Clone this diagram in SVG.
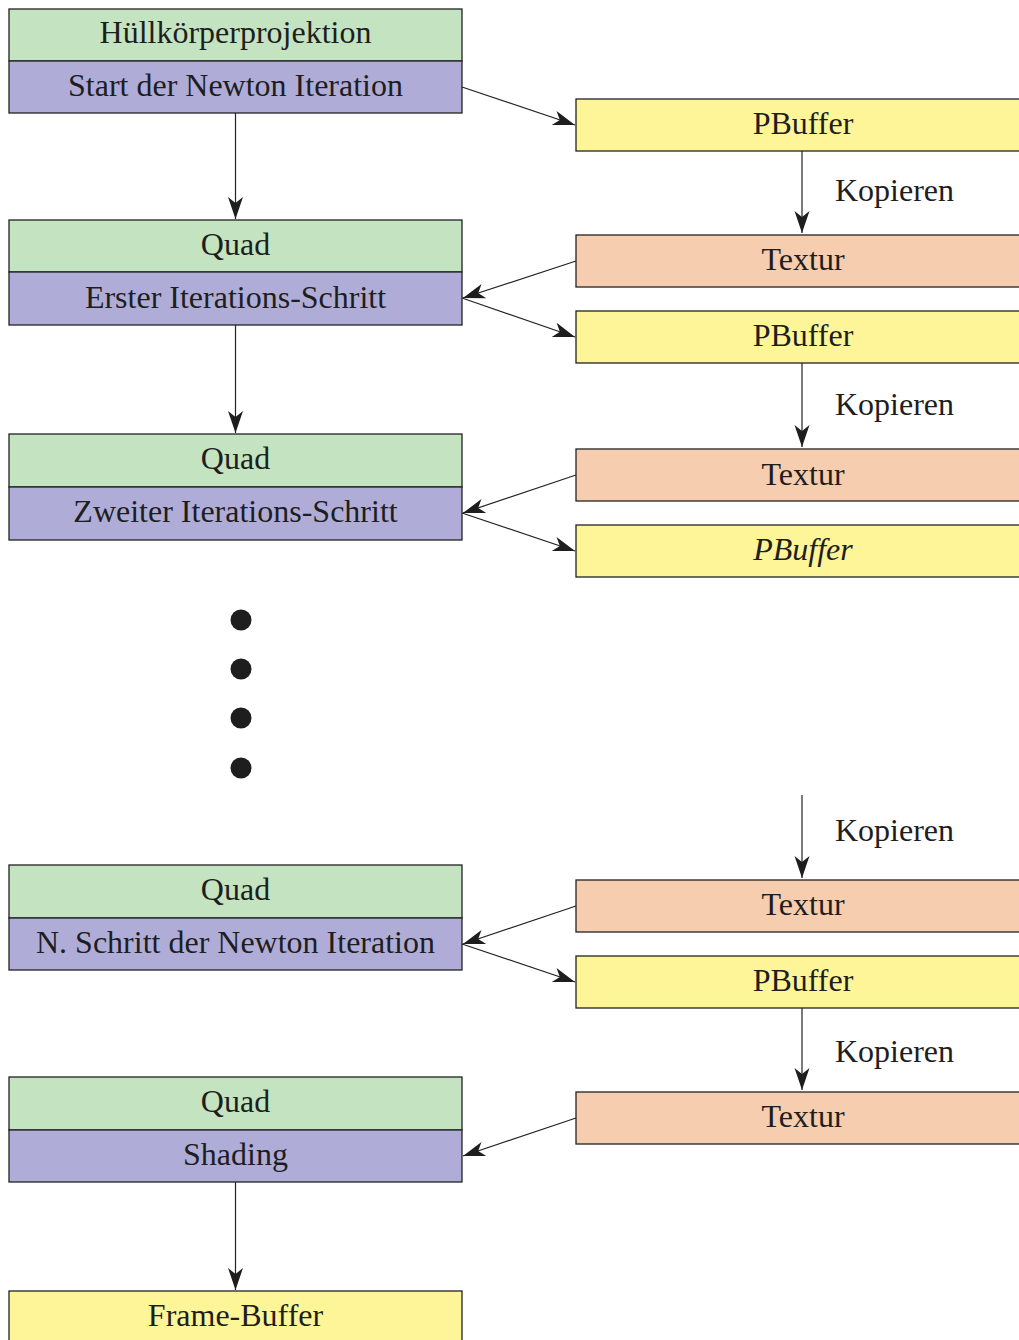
<svg xmlns="http://www.w3.org/2000/svg" width="1019" height="1340" viewBox="0 0 1019 1340">
  <style>
    .box { stroke: #222; stroke-width: 1.3; }
    .g { fill: #c4e3c1; }
    .p { fill: #afadd8; }
    .y { fill: #fef598; }
    .o { fill: #f6cdae; }
    text { font-family: "Liberation Serif", "Times New Roman", serif; font-size: 32px; fill: #1e1e1e; text-anchor: middle; }
    .lbl { text-anchor: start; }
    .con { stroke: #222; stroke-width: 1.2; fill: none; marker-end: url(#ah); }
  </style>
  <defs>
    <marker id="ah" markerUnits="userSpaceOnUse" markerWidth="26" markerHeight="18" viewBox="-24 -9 26 18" refX="0" refY="0" orient="auto">
      <path d="M0,0 L-22,-7.5 L-16,0 L-22,7.5 z" fill="#1e1e1e"/>
    </marker>
  </defs>

  <rect width="1019" height="1340" fill="#fff"/>

  <!-- left column: render passes -->
  <g id="n1">
    <rect class="box g" x="9" y="9" width="453" height="52"/>
    <rect class="box p" x="9" y="61" width="453" height="52"/>
    <text x="235.5" y="43">Hüllkörperprojektion</text>
    <text x="235.5" y="96">Start der Newton Iteration</text>
  </g>
  <g id="n2">
    <rect class="box g" x="9" y="220" width="453" height="52"/>
    <rect class="box p" x="9" y="272" width="453" height="53"/>
    <text x="235.5" y="255">Quad</text>
    <text x="235.5" y="308">Erster Iterations-Schritt</text>
  </g>
  <g id="n3">
    <rect class="box g" x="9" y="434" width="453" height="53"/>
    <rect class="box p" x="9" y="487" width="453" height="53"/>
    <text x="235.5" y="469">Quad</text>
    <text x="235.5" y="522">Zweiter Iterations-Schritt</text>
  </g>
  <g id="n4">
    <rect class="box g" x="9" y="865" width="453" height="53"/>
    <rect class="box p" x="9" y="918" width="453" height="52"/>
    <text x="235.5" y="900">Quad</text>
    <text x="235.5" y="953">N. Schritt der Newton Iteration</text>
  </g>
  <g id="n5">
    <rect class="box g" x="9" y="1077" width="453" height="53"/>
    <rect class="box p" x="9" y="1130" width="453" height="52"/>
    <text x="235.5" y="1112">Quad</text>
    <text x="235.5" y="1165">Shading</text>
  </g>
  <g id="n6">
    <rect class="box y" x="9" y="1291" width="453" height="60"/>
    <text x="235.5" y="1326">Frame-Buffer</text>
  </g>

  <!-- right column: buffers and textures -->
  <g id="r1">
    <rect class="box y" x="576" y="99" width="460" height="52"/>
    <text x="803" y="134">PBuffer</text>
  </g>
  <g id="r2">
    <rect class="box o" x="576" y="235" width="460" height="52"/>
    <text x="803" y="270">Textur</text>
  </g>
  <g id="r3">
    <rect class="box y" x="576" y="311" width="460" height="52"/>
    <text x="803" y="346">PBuffer</text>
  </g>
  <g id="r4">
    <rect class="box o" x="576" y="449" width="460" height="52"/>
    <text x="803" y="485">Textur</text>
  </g>
  <g id="r5">
    <rect class="box y" x="576" y="525" width="460" height="52"/>
    <text x="803" y="560" font-style="italic">PBuffer</text>
  </g>
  <g id="r6">
    <rect class="box o" x="576" y="880" width="460" height="52"/>
    <text x="803" y="915">Textur</text>
  </g>
  <g id="r7">
    <rect class="box y" x="576" y="956" width="460" height="52"/>
    <text x="803" y="991">PBuffer</text>
  </g>
  <g id="r8">
    <rect class="box o" x="576" y="1092" width="460" height="52"/>
    <text x="803" y="1127">Textur</text>
  </g>

  <!-- ellipsis between iterations -->
  <g id="dots" fill="#1e1e1e">
    <circle cx="241" cy="620" r="10.5"/>
    <circle cx="241" cy="669" r="10.5"/>
    <circle cx="241" cy="718" r="10.5"/>
    <circle cx="241" cy="768" r="10.5"/>
  </g>

  <!-- connectors -->
  <g id="connectors">
    <line class="con" x1="235.5" y1="113" x2="235.5" y2="219"/>
    <line class="con" x1="235.5" y1="325" x2="235.5" y2="433"/>
    <line class="con" x1="235.5" y1="1182" x2="235.5" y2="1290"/>

    <line class="con" x1="462" y1="87" x2="575" y2="125"/>
    <line class="con" x1="576" y1="261" x2="463" y2="298"/>
    <line class="con" x1="462" y1="298" x2="575" y2="337"/>
    <line class="con" x1="576" y1="475" x2="463" y2="513"/>
    <line class="con" x1="462" y1="513" x2="575" y2="551"/>
    <line class="con" x1="576" y1="906" x2="463" y2="944"/>
    <line class="con" x1="462" y1="944" x2="575" y2="982"/>
    <line class="con" x1="576" y1="1118" x2="463" y2="1156"/>

    <line class="con" x1="802" y1="151" x2="802" y2="233"/>
    <line class="con" x1="802" y1="363" x2="802" y2="447"/>
    <line class="con" x1="802" y1="795" x2="802" y2="878"/>
    <line class="con" x1="802" y1="1008" x2="802" y2="1090"/>

    <text class="lbl" x="835" y="201">Kopieren</text>
    <text class="lbl" x="835" y="415">Kopieren</text>
    <text class="lbl" x="835" y="841">Kopieren</text>
    <text class="lbl" x="835" y="1062">Kopieren</text>
  </g>
</svg>
